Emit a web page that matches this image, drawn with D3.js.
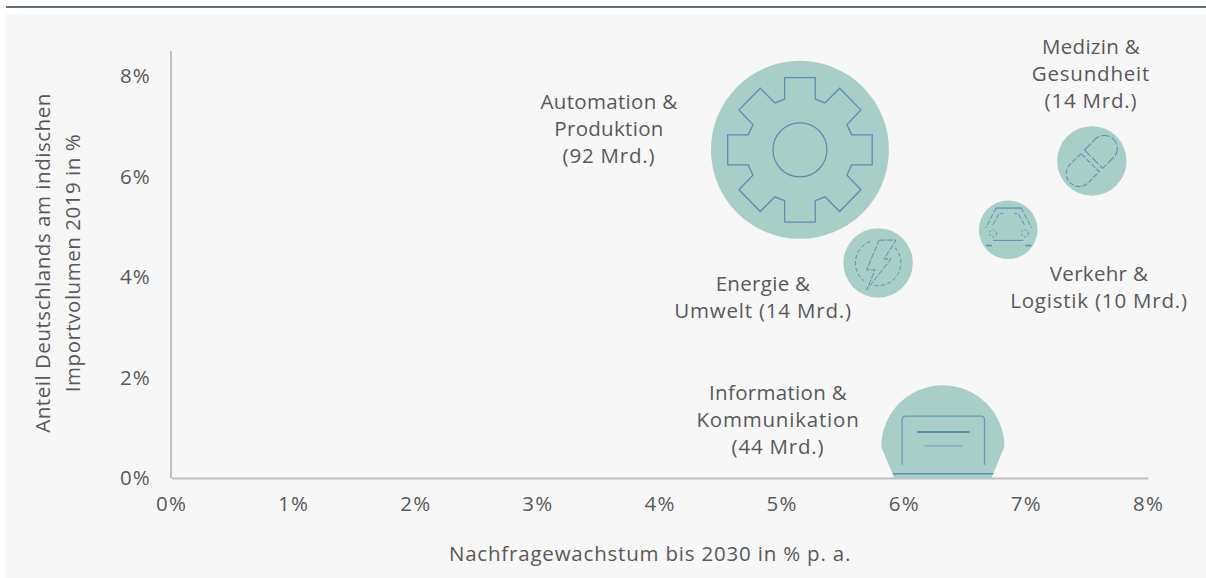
<!DOCTYPE html>
<html lang="de">
<head>
<meta charset="utf-8">
<script src="https://cdn.jsdelivr.net/npm/d3@7"></script>
<style>
  html, body { margin: 0; padding: 0; background: #fff; }
  svg { display: block; }
  text { font-family: "Open Sans", sans-serif; font-size: 20.5px; letter-spacing: 0.3px; fill: #595959; }
  .tick text { letter-spacing: 1.2px; }
  .title-x { letter-spacing: 0.8px; }
  .title-y { letter-spacing: 0.53px; }
  .wide { letter-spacing: 0.8px; }
</style>
</head>
<body>
<svg id="plot" width="1206" height="578"></svg>
<script>
// values
const sectors = ["Automation", "Information", "Energie", "Medizin", "Verkehr"];
const growth = [5.15, 6.32, 5.79, 7.54, 6.855];
const share = [6.53, 0.62, 4.28, 6.31, 4.94];
const volume = [92, 44, 14, 14, 10];
const labelLines = [
  ["Automation &", "Produktion", "(92 Mrd.)"],
  ["Information &", "Kommunikation", "(44 Mrd.)"],
  ["Energie &", "Umwelt (14 Mrd.)"],
  ["Medizin &", "Gesundheit", "(14 Mrd.)"],
  ["Verkehr &", "Logistik (10 Mrd.)"]
];
const xTicks = [0, 1, 2, 3, 4, 5, 6, 7, 8];
const yTicks = [0, 2, 4, 6, 8];

const svg = d3.select("#plot");

svg.append("rect").attr("x", 6).attr("y", 14).attr("width", 1200).attr("height", 564).attr("fill", "#f7f7f7");
svg.append("rect").attr("x", 6).attr("y", 6).attr("width", 1200).attr("height", 2).attr("fill", "#5f6e78");

const x = d3.scaleLinear().domain([0, 8]).range([171, 1148]);
const y = d3.scaleLinear().domain([0, 8]).range([478, 76]);
const r = d3.scaleSqrt().domain([0, 92]).range([0, 89]);

// Axes
const xAxis = svg.append("g")
  .attr("transform", `translate(0,${y(0)})`)
  .call(d3.axisBottom(x).tickValues(xTicks).tickFormat(d => d + "%").tickSize(0).tickPadding(18));

const yAxis = svg.append("g")
  .attr("transform", `translate(${x(0)},0)`)
  .call(d3.axisLeft(y).tickValues(yTicks).tickFormat(d => d + "%").tickSize(0).tickPadding(20));

xAxis.select(".domain").attr("stroke", "#bfbfbf").attr("stroke-width", 2);
yAxis.select(".domain").attr("stroke", "#bfbfbf").attr("stroke-width", 2)
  .attr("d", `M0,${y(8.5)}V${y(0)}`);

// Axis titles
svg.append("text").attr("class", "title-x").attr("x", 650).attr("y", 561).attr("text-anchor", "middle")
  .text("Nachfragewachstum bis 2030 in % p. a.");

svg.append("text").attr("class", "title-y").attr("transform", "translate(50,263) rotate(-90)").attr("text-anchor", "middle")
  .text("Anteil Deutschlands am indischen");
svg.append("text").attr("class", "title-y").attr("transform", "translate(80,263) rotate(-90)").attr("text-anchor", "middle")
  .text("Importvolumen 2019 in %");

// Bubbles
const bubbles = sectors.map((s, i) => ({ name: s, gx: growth[i], gy: share[i], v: volume[i] }));

// the information bubble is cut off near the axis in the original
const cut = svg.append("clipPath").attr("id", "cut").append("polygon");
const ri = r(volume[1]);
const cxi = x(growth[1]), cyi = y(share[1]);
cut.attr("points", [
  [-ri - 2, -ri - 2], [ri + 2, -ri - 2], [ri + 2, 0], [ri, 0], [ri * 0.785, ri * 0.52], [-ri * 0.785, ri * 0.52], [-ri, 0], [-ri - 2, 0]
].map(p => [p[0] + cxi, p[1] + cyi].join(",")).join(" "));

svg.selectAll("circle.bubble")
  .data(bubbles)
  .enter()
  .append("circle")
  .attr("class", "bubble")
  .attr("cx", d => x(d.gx))
  .attr("cy", d => y(d.gy))
  .attr("r", d => r(d.v))
  .attr("clip-path", d => d.name === "Information" ? "url(#cut)" : null)
  .attr("fill", "#a7cfc7");

// Icons, drawn in units of the bubble radius
const iconBlue = "#5a8fb3";

function icon(i) {
  return svg.append("g")
    .attr("transform", `translate(${x(growth[i])},${y(share[i])}) scale(${r(volume[i])})`)
    .attr("fill", "none")
    .attr("stroke", iconBlue);
}

// gear
const gear = icon(0).attr("stroke-width", 1.3 / r(volume[0]));
const quarter = [[15.3, -72.3], [15.3, -50.7], [25, -47], [39.7, -61.7], [61, -40], [47, -25.3], [51.7, -15], [72.3, -15]];
const gearPts = [
  ...quarter,
  ...quarter.slice().reverse().map(p => [p[0], -p[1]]),
  ...quarter.map(p => [-p[0], -p[1]]),
  ...quarter.slice().reverse().map(p => [-p[0], p[1]])
].map(p => [p[0] / 89, p[1] / 89]);
gear.append("path").attr("d", d3.line()(gearPts) + "Z");
gear.append("circle").attr("r", 27 / 89);

// screen / laptop
const ws = 1 / r(volume[1]);
const lap = icon(1).attr("stroke-width", 1.3 * ws);
const u = v => v / 62;
lap.append("path").attr("opacity", 0.85)
  .attr("d", `M${u(-41)},${u(18)}V${u(-27)}Q${u(-41)},${u(-31)} ${u(-37)},${u(-31)}H${u(38)}Q${u(42)},${u(-31)} ${u(42)},${u(-27)}V${u(18)}`);
lap.append("path").attr("stroke-width", 2 * ws).attr("d", `M${u(-26)},${u(-15)}H${u(27)}`);
lap.append("path").attr("stroke-width", 1 * ws).attr("opacity", 0.7).attr("d", `M${u(-19)},${u(-1)}H${u(20)}`);
lap.append("path").attr("stroke-width", 1.5 * ws).attr("d", `M${u(-50)},${u(27)}H${u(51)}`);

// lightning
const wb = 1 / r(volume[2]);
const bolt = icon(2).attr("stroke-width", 1 * wb);
const b = v => v / 35;
bolt.append("path").attr("stroke-dasharray", `${6 * wb} ${1.5 * wb}`)
  .attr("d", `M${b(1)},${b(-23)}L${b(18)},${b(-23)}L${b(6)},${b(-4)}L${b(13)},${b(-4)}L${b(-11.5)},${b(27)}L${b(-3)},${b(7)}L${b(-11.5)},${b(7)}Z`);
bolt.append("path").attr("stroke-dasharray", `${4 * wb} ${2.5 * wb}`)
  .attr("d", `M${b(-8)},${b(-21.5)}A${b(23)},${b(23)} 0 0 0 ${b(-14)},${b(18.2)}M${b(17)},${b(-15.5)}A${b(23)},${b(23)} 0 0 1 ${b(-4)},${b(22.6)}`);

// pill
const wp = 1 / r(volume[3]);
const pill = icon(3).attr("stroke-width", 1 * wp);
const p = v => v / 35;
const pg = pill.append("g").attr("transform", "rotate(-45)");
pg.append("path").attr("stroke-dasharray", `${5 * wp} ${2 * wp}`)
  .attr("d", `M${p(-2.5)},${p(-13)}H${p(-18)}A${p(13)},${p(13)} 0 0 0 ${p(-18)},${p(13)}H${p(-2.5)}Z`);
pg.append("path").attr("stroke-dasharray", `${9 * wp} ${2 * wp}`)
  .attr("d", `M${p(2.5)},${p(-13)}H${p(18)}A${p(13)},${p(13)} 0 0 1 ${p(18)},${p(13)}H${p(2.5)}Z`);

// car
const wc = 1 / r(volume[4]);
const car = icon(4).attr("stroke-width", 1 * wc);
const c = v => v / 29;
car.append("path").attr("stroke-width", 1.3 * wc).attr("d", `M${c(-12)},${c(-21.5)}H${c(13)}`);
car.append("path").attr("stroke-dasharray", `${5 * wc} ${2 * wc}`)
  .attr("d", `M${c(-12)},${c(-21.5)}L${c(-22)},${c(-2)}M${c(13)},${c(-21.5)}L${c(23)},${c(-2)}M${c(-15)},${c(-5)}L${c(-9)},${c(-16)}H${c(-5)}M${c(16)},${c(-5)}L${c(10)},${c(-16)}H${c(6)}`);
car.append("circle").attr("cx", c(-15)).attr("cy", c(3.5)).attr("r", c(3.5)).attr("stroke-dasharray", `${2 * wc} ${2 * wc}`);
car.append("circle").attr("cx", c(16.5)).attr("cy", c(3.5)).attr("r", c(3.5)).attr("stroke-dasharray", `${2 * wc} ${2 * wc}`);
car.append("path").attr("d", `M${c(-15)},${c(10.5)}H${c(15)}`);
car.append("path").attr("stroke-width", 1.4 * wc).attr("d", `M${c(-22)},${c(15.5)}H${c(-16)}M${c(17)},${c(15.5)}H${c(23)}`);

// Labels
const labelX = [609, 778, 763, 1091, 1099];
const labelY = [109, 400, 291, 54, 281];

labelLines.forEach((lines, i) => {
  svg.append("text")
    .attr("text-anchor", "middle")
    .selectAll("tspan")
    .data(lines)
    .enter()
    .append("tspan")
    .attr("class", d => /Mrd|Kommunikation|Gesundheit/.test(d) ? "wide" : null)
    .attr("x", labelX[i])
    .attr("y", (d, k) => labelY[i] + k * 27)
    .text(d => d);
});
</script>
</body>
</html>
